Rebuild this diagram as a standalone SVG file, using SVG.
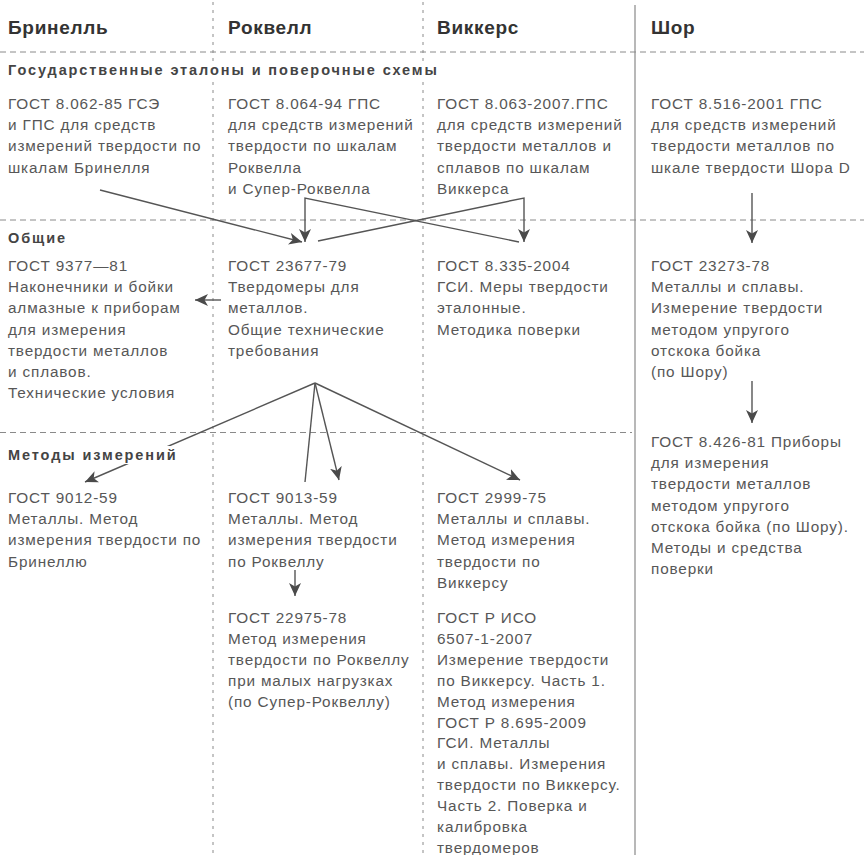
<svg xmlns="http://www.w3.org/2000/svg" width="864" height="855" viewBox="0 0 864 855">
<defs>
<style>
.hdr{font-family:"Liberation Sans",Arial,sans-serif;font-weight:bold;font-size:19px;fill:#333;letter-spacing:0.7px}
.sec{font-family:"Liberation Sans",Arial,sans-serif;font-weight:bold;font-size:14.5px;fill:#444;letter-spacing:1.9px}
.t{font-family:"Liberation Sans",Arial,sans-serif;font-size:15.3px;fill:#575757;letter-spacing:0.85px}
.grid{stroke:#8a8a8a;stroke-width:1;fill:none;stroke-dasharray:6 4}
.vgrid{stroke:#8a8a8a;stroke-width:1;fill:none;stroke-dasharray:3 5}
.solid{stroke:#9a9a9a;stroke-width:1.4;fill:none}
.c{stroke:#555;stroke-width:1.4;fill:none}
.a{marker-end:url(#ah)}
</style>
<marker id="ah" markerUnits="userSpaceOnUse" markerWidth="14" markerHeight="12" refX="13" refY="6" orient="auto">
<path d="M0,0 L13,6 L0,12 L3.5,6 Z" fill="#4a4a4a"/>
</marker>
</defs>
<rect width="864" height="855" fill="#fff"/>

<g id="grid">
<line class="vgrid" x1="213" y1="2" x2="213" y2="855"/>
<line class="vgrid" x1="423" y1="2" x2="423" y2="855"/>
<line class="solid" x1="635" y1="5" x2="635" y2="855"/>
<line class="grid" x1="0" y1="52" x2="864" y2="52"/>
<line class="grid" x1="0" y1="220" x2="864" y2="220"/>
<line class="grid" x1="0" y1="432.5" x2="632" y2="432.5"/>
</g>

<g id="connectors">
<line class="c a" x1="100" y1="190" x2="302" y2="242"/>
<polyline class="c a" points="519,242 305,198 305,242"/>
<polyline class="c a" points="318,241 524,198 524,242"/>
<line class="c a" x1="221" y1="300" x2="195" y2="300"/>
<line class="c a" x1="315" y1="383" x2="85" y2="482"/>
<line class="c" x1="315" y1="383" x2="305" y2="482"/>
<line class="c a" x1="315" y1="383" x2="339" y2="480"/>
<line class="c a" x1="315" y1="383" x2="520" y2="480"/>
<line class="c a" x1="295" y1="570" x2="295" y2="596"/>
<line class="c a" x1="752" y1="193" x2="752" y2="243"/>
<line class="c a" x1="752" y1="381" x2="752" y2="423"/>
</g>

<g id="headers">
<text class="hdr" x="8" y="34">Бринелль</text>
<text class="hdr" x="228" y="34">Роквелл</text>
<text class="hdr" x="437" y="34">Виккерс</text>
<text class="hdr" x="651" y="34">Шор</text>
</g>

<g id="section-standards">
<rect x="4" y="61" width="440" height="18" fill="#fff"/>
<text class="sec" x="8" y="75">Государственные эталоны и поверочные схемы</text>
</g>
<g id="section-general">
<text class="sec" x="8" y="243">Общие</text>
</g>
<g id="section-methods">
<rect x="4" y="446" width="182" height="18" fill="#fff"/>
<text class="sec" x="8" y="460">Методы измерений</text>
</g>

<g id="gost-8-062-85">
<text class="t" x="8" y="109"><tspan x="8">ГОСТ 8.062-85 ГСЭ</tspan><tspan x="8" dy="21.2">и ГПС для средств</tspan><tspan x="8" dy="21.2">измерений твердости по</tspan><tspan x="8" dy="21.2">шкалам Бринелля</tspan></text>
</g>
<g id="gost-8-064-94">
<text class="t" x="228" y="109"><tspan x="228">ГОСТ 8.064-94 ГПС</tspan><tspan x="228" dy="21.2">для средств измерений</tspan><tspan x="228" dy="21.2">твердости по шкалам</tspan><tspan x="228" dy="21.2">Роквелла</tspan><tspan x="228" dy="21.2">и Супер-Роквелла</tspan></text>
</g>
<g id="gost-8-063-2007">
<text class="t" x="437" y="109"><tspan x="437">ГОСТ 8.063-2007.ГПС</tspan><tspan x="437" dy="21.2">для средств измерений</tspan><tspan x="437" dy="21.2">твердости металлов и</tspan><tspan x="437" dy="21.2">сплавов по шкалам</tspan><tspan x="437" dy="21.2">Виккерса</tspan></text>
</g>
<g id="gost-8-516-2001">
<text class="t" x="651" y="109"><tspan x="651">ГОСТ 8.516-2001 ГПС</tspan><tspan x="651" dy="21.2">для средств измерений</tspan><tspan x="651" dy="21.2">твердости металлов по</tspan><tspan x="651" dy="21.2">шкале твердости Шора D</tspan></text>
</g>

<g id="gost-9377-81">
<text class="t" x="8" y="271"><tspan x="8">ГОСТ 9377—81</tspan><tspan x="8" dy="21.2">Наконечники и бойки</tspan><tspan x="8" dy="21.2">алмазные к приборам</tspan><tspan x="8" dy="21.2">для измерения</tspan><tspan x="8" dy="21.2">твердости металлов</tspan><tspan x="8" dy="21.2">и сплавов.</tspan><tspan x="8" dy="21.2">Технические условия</tspan></text>
</g>
<g id="gost-23677-79">
<text class="t" x="228" y="271"><tspan x="228">ГОСТ 23677-79</tspan><tspan x="228" dy="21.2">Твердомеры для</tspan><tspan x="228" dy="21.2">металлов.</tspan><tspan x="228" dy="21.2">Общие технические</tspan><tspan x="228" dy="21.2">требования</tspan></text>
</g>
<g id="gost-8-335-2004">
<text class="t" x="437" y="271"><tspan x="437">ГОСТ 8.335-2004</tspan><tspan x="437" dy="21.2">ГСИ. Меры твердости</tspan><tspan x="437" dy="21.2">эталонные.</tspan><tspan x="437" dy="21.2">Методика поверки</tspan></text>
</g>
<g id="gost-23273-78">
<text class="t" x="651" y="271"><tspan x="651">ГОСТ 23273-78</tspan><tspan x="651" dy="21.2">Металлы и сплавы.</tspan><tspan x="651" dy="21.2">Измерение твердости</tspan><tspan x="651" dy="21.2">методом упругого</tspan><tspan x="651" dy="21.2">отскока бойка</tspan><tspan x="651" dy="21.2">(по Шору)</tspan></text>
</g>
<g id="gost-8-426-81">
<text class="t" x="651" y="447"><tspan x="651">ГОСТ 8.426-81 Приборы</tspan><tspan x="651" dy="21.2">для измерения</tspan><tspan x="651" dy="21.2">твердости металлов</tspan><tspan x="651" dy="21.2">методом упругого</tspan><tspan x="651" dy="21.2">отскока бойка (по Шору).</tspan><tspan x="651" dy="21.2">Методы и средства</tspan><tspan x="651" dy="21.2">поверки</tspan></text>
</g>

<g id="gost-9012-59">
<text class="t" x="8" y="503"><tspan x="8">ГОСТ 9012-59</tspan><tspan x="8" dy="21.2">Металлы. Метод</tspan><tspan x="8" dy="21.2">измерения твердости по</tspan><tspan x="8" dy="21.2">Бринеллю</tspan></text>
</g>
<g id="gost-9013-59">
<text class="t" x="228" y="503"><tspan x="228">ГОСТ 9013-59</tspan><tspan x="228" dy="21.2">Металлы. Метод</tspan><tspan x="228" dy="21.2">измерения твердости</tspan><tspan x="228" dy="21.2">по Роквеллу</tspan></text>
</g>
<g id="gost-22975-78">
<text class="t" x="228" y="623"><tspan x="228">ГОСТ 22975-78</tspan><tspan x="228" dy="20.9">Метод измерения</tspan><tspan x="228" dy="20.9">твердости по Роквеллу</tspan><tspan x="228" dy="20.9">при малых нагрузках</tspan><tspan x="228" dy="20.9">(по Супер-Роквеллу)</tspan></text>
</g>
<g id="gost-2999-75">
<text class="t" x="437" y="503"><tspan x="437">ГОСТ 2999-75</tspan><tspan x="437" dy="21.2">Металлы и сплавы.</tspan><tspan x="437" dy="21.2">Метод измерения</tspan><tspan x="437" dy="21.2">твердости по</tspan><tspan x="437" dy="21.2">Виккерсу</tspan></text>
</g>
<g id="gost-r-iso-6507">
<text class="t" x="437" y="623"><tspan x="437">ГОСТ Р ИСО</tspan><tspan x="437" dy="20.9">6507-1-2007</tspan><tspan x="437" dy="20.9">Измерение твердости</tspan><tspan x="437" dy="20.9">по Виккерсу. Часть 1.</tspan><tspan x="437" dy="20.9">Метод измерения</tspan><tspan x="437" dy="20.9">ГОСТ Р 8.695-2009</tspan><tspan x="437" dy="20.9">ГСИ. Металлы</tspan><tspan x="437" dy="20.9">и сплавы. Измерения</tspan><tspan x="437" dy="20.9">твердости по Виккерсу.</tspan><tspan x="437" dy="20.9">Часть 2. Поверка и</tspan><tspan x="437" dy="20.9">калибровка</tspan><tspan x="437" dy="20.9">твердомеров</tspan></text>
</g>
</svg>
